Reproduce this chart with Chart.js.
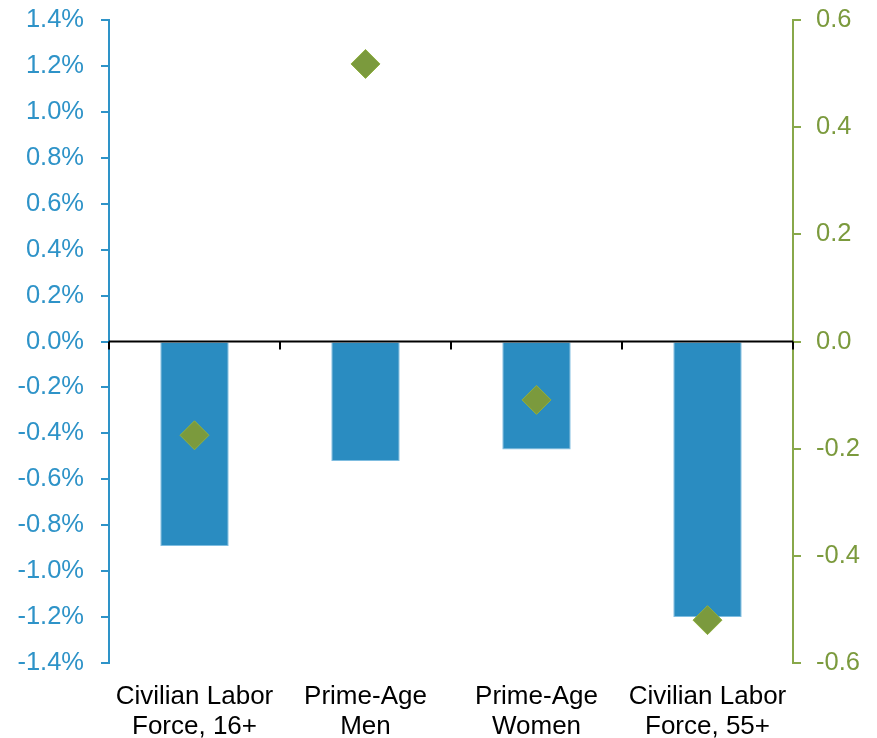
<!DOCTYPE html>
<html lang="en">
<head>
  <meta charset="UTF-8" />
  <title>Labor force change</title>
  <script src="https://cdn.jsdelivr.net/npm/chart.js"></script>
  <style>
    html, body { margin: 0; padding: 0; background: #fff; }
    #wrap { width: 877px; height: 738px; }
  </style>
</head>
<body>
  <div id="wrap"><canvas id="grafico"></canvas></div>

  <script>
    // dados
    const categorias = [
      ['Civilian Labor', 'Force, 16+'],
      ['Prime-Age', 'Men'],
      ['Prime-Age', 'Women'],
      ['Civilian Labor', 'Force, 55+']
    ];
    const barras = [-0.89, -0.52, -0.47, -1.2];      // % (eixo esquerdo)
    const losangos = [-0.175, 0.518, -0.109, -0.52]; // eixo direito

    const AZUL = '#2a8cc1';
    const AZUL_TXT = '#2e93c8';
    const VERDE = '#7b9a3d';
    const VERDE_EIXO = '#88a84a';
    const FONTE = 'Liberation Sans, Arial';

    // linha do zero com marcas entre categorias
    const linhaZero = {
      id: 'linhaZero',
      afterDatasetsDraw(chart) {
        const { ctx, chartArea, scales } = chart;
        const y0 = scales.y.getPixelForValue(0);
        ctx.save();
        ctx.strokeStyle = '#000';
        ctx.lineWidth = 2;
        ctx.beginPath();
        ctx.moveTo(chartArea.left, y0);
        ctx.lineTo(chartArea.right, y0);
        const n = categorias.length;
        const passo = (chartArea.right - chartArea.left) / n;
        for (let i = 0; i <= n; i++) {
          const x = Math.round(chartArea.left + passo * i);
          ctx.moveTo(x, y0);
          ctx.lineTo(x, y0 + 8);
        }
        ctx.stroke();
        ctx.restore();
      }
    };

    // eixo vertical sem folga extra em cima/embaixo
    const semFolga = largura => s => {
      s.width = largura;
      s.paddingTop = 0;
      s.paddingBottom = 0;
    };

    const ctx = document.getElementById('grafico').getContext('2d');
    new Chart(ctx, {
      data: {
        labels: categorias,
        datasets: [
          {
            type: 'line',
            data: losangos,
            yAxisID: 'y1',
            showLine: false,
            pointStyle: 'rectRot',
            pointRadius: 14.5,
            pointBackgroundColor: VERDE,
            pointBorderColor: '#8fb040',
            pointBorderWidth: 1,
            order: 1
          },
          {
            type: 'bar',
            data: barras,
            yAxisID: 'y',
            backgroundColor: AZUL,
            borderColor: '#7fbde0',
            borderWidth: 1,
            barPercentage: 0.4,
            categoryPercentage: 1,
            order: 2
          }
        ]
      },
      options: {
        responsive: true,
        maintainAspectRatio: false,
        animation: false,
        layout: { padding: { top: 20, left: 0, right: 0, bottom: 0 } },
        plugins: { legend: { display: false }, tooltip: { enabled: false } },
        scales: {
          x: {
            offset: true,
            grid: { display: false },
            border: { display: false },
            ticks: {
              color: '#000',
              font: { family: FONTE, size: 26, lineHeight: 1.15 },
              padding: 11,
              maxRotation: 0
            },
            afterFit: s => { s.height = 75; }
          },
          y: {
            position: 'left',
            min: -1.4,
            max: 1.4,
            grid: { drawOnChartArea: false, color: AZUL_TXT, tickLength: 8, lineWidth: 2 },
            border: { color: AZUL_TXT, width: 2 },
            ticks: {
              stepSize: 0.2,
              color: AZUL_TXT,
              padding: 17,
              font: { family: FONTE, size: 25.5 },
              callback: v => v.toFixed(1) + '%'
            },
            afterFit: semFolga(109)
          },
          y1: {
            position: 'right',
            min: -0.6,
            max: 0.6,
            grid: { drawOnChartArea: false, color: VERDE_EIXO, tickLength: 8, lineWidth: 2 },
            border: { color: VERDE_EIXO, width: 2 },
            ticks: {
              stepSize: 0.2,
              color: VERDE,
              padding: 15,
              font: { family: FONTE, size: 25.5 },
              callback: v => v.toFixed(1)
            },
            afterFit: semFolga(84)
          }
        }
      },
      plugins: [linhaZero]
    });
  </script>
</body>
</html>
